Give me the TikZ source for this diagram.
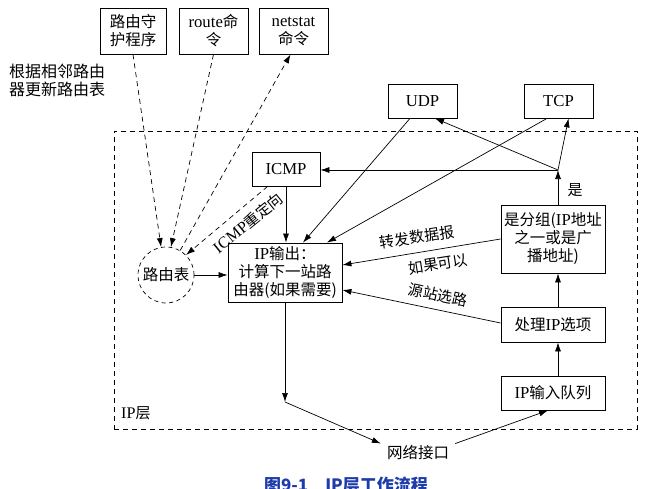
\documentclass[tikz,border=0pt]{standalone}
\usepackage{fontspec}
\setmainfont{Noto Sans CJK SC}
\newfontfamily\en[Scale=1.08]{Liberation Serif}
\usetikzlibrary{arrows.meta,calc}
\begin{document}
\begin{tikzpicture}[x=1pt,y=-1pt,
 box/.style={draw,line width=0.8pt,rectangle,inner sep=0pt,align=center,font=\fontsize{15.5}{18}\selectfont},
 arr/.style={-{Latex[length=9pt,width=6pt]},line width=0.7pt},
 dsh/.style={dash pattern=on 5pt off 4pt,line width=0.7pt},
 lbl/.style={font=\fontsize{15}{17}\selectfont,inner sep=0pt,align=left}]
\useasboundingbox[fill=white] (0,0) rectangle (663,489);
% layer
\node[draw,dsh,minimum width=523pt,minimum height=298pt,inner sep=0pt] (layer) at (375.5,280) {};
\node[lbl,anchor=west] (layername) at (121,413) {{\en IP}层};
% top boxes
\node[box,minimum width=66pt,minimum height=46pt] (daemon) at (133,31) {路由守\\护程序};
\node[box,minimum width=69pt,minimum height=46pt] (routecmd) at (213.5,31) {{\en route}命\\令};
\node[box,minimum width=69pt,minimum height=46pt] (netstat) at (293.5,31) {{\en netstat}\\命令};
\node[lbl,anchor=west,font=\fontsize{16}{18}\selectfont] (note) at (9,80) {根据相邻路由\\器更新路由表};
% main boxes
\node[draw,dash pattern=on 4pt off 3.5pt,line width=0.7pt,circle,minimum size=56pt,inner sep=0pt,font=\fontsize{15.5}{18}\selectfont] (rt) at (166,275) {路由表};
\node[box,minimum width=114pt,minimum height=59pt] (ipout) at (285,272.5) {{\en IP}输出：\\计算下一站路\\由器({\en }如果需要)};
\node[box,minimum width=68pt,minimum height=34pt] (icmp) at (286,169) {{\en ICMP}};
\node[box,minimum width=69pt,minimum height=34pt] (udp) at (422.5,101) {{\en UDP}};
\node[box,minimum width=69pt,minimum height=34pt] (tcp) at (558.5,101) {{\en TCP}};
\node[box,minimum width=104pt,minimum height=68pt] (isour) at (553,239) {是分组({\en IP}地址\\之一或是广\\播地址)};
\node[box,minimum width=104pt,minimum height=35pt] (opts) at (553,324.5) {处理{\en IP}选项};
\node[box,minimum width=104pt,minimum height=34pt] (inq) at (553,393) {{\en IP}输入队列};
\node[font=\fontsize{15.5}{18}\selectfont,inner xsep=6pt,inner ysep=2pt] (netif) at (418,453) {网络接口};
\node[font=\fontsize{17}{20}\selectfont\bfseries,text={rgb,255:red,30;green,60;blue,170}] (caption) at (346,485) {图9-1\quad{}IP层工作流程};
% junctions
\coordinate (j) at (558,170);
\coordinate (b) at (285,402);
% right column
\draw[arr] (inq.north -| j) -- (opts.south -| j);
\draw[arr] (opts.north -| j) -- (isour.south -| j);
\draw[arr] (isour.north -| j) -- (j);
\node[lbl] (yes) at (575,190) {是};
\draw[arr] (j) -- ($(tcp.south)+(10,0)$);
\draw[arr] (j) -- ($(udp.south)+(12.5,0)$);
\draw[arr] (j) -- (j -| icmp.east);
\draw[arr] ($(udp.south)+(-12.5,0)$) -- ($(ipout.north)+(18,0)$);
\draw[arr] ($(tcp.south)+(-11.5,0)$) -- ($(ipout.north)+(42,0)$);
\draw[arr] (icmp.south) -- (icmp.south |- ipout.north);
\draw[arr] (isour.west) -- ($(ipout.east)+(0,-7.5)$);
\draw[arr] ($(opts.west)+(0,-1.5)$) -- ($(ipout.east)+(0,17.5)$);
\node[lbl,rotate=9] (fwd) at (417,237) {转发数据报};
\node[lbl,rotate=9] (ifok) at (438,264) {如果可以};
\node[lbl,rotate=-12] (srcrt) at (438,295) {源站选路};
\draw[arr] (rt.east) -- (rt.east -| ipout.west);
\draw[arr] (ipout.south -| b) -- (b);
\draw[arr] (b) -- (netif.north west);
\draw[arr] (netif.north east) -- ($(inq.south)+(-5,0)$);
% dashed
\draw[dsh,arr] (daemon.south) -- (rt.100);
\draw[dsh,arr] (routecmd.south) -- (rt.80);
\draw[dsh,arr] (rt.60) -- ($(netstat.south)+(-3,0)$);
\draw[dsh,arr] ($(icmp.south west)+(16,0)$) -- (rt.45);
\node[lbl,rotate=39] (redir) at (248,223) {{\en ICMP}重定向};
\end{tikzpicture}
\end{document}
